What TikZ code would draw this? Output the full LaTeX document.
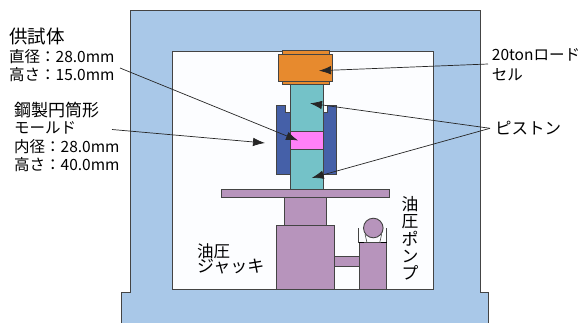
\documentclass[tikz,border=0pt]{standalone}
\usetikzlibrary{arrows.meta}
\usepackage{fontspec}
\setmainfont{Noto Sans CJK JP}
\usepackage{xcolor}
\definecolor{frame}{HTML}{A9C8E8}
\definecolor{room}{HTML}{FCFDFF}
\definecolor{edge}{HTML}{444444}
\definecolor{cell}{HTML}{E78A2E}
\definecolor{piston}{HTML}{74C2C8}
\definecolor{mould}{HTML}{4560A8}
\definecolor{sample}{HTML}{FF80F8}
\definecolor{jack}{HTML}{B794BC}

\begin{document}
\begin{tikzpicture}[x=1pt,y=-1pt,
		part/.style={draw=edge, line width=0.9pt, line join=miter},
		lead/.style={draw=black!85, line width=0.7pt, -{Latex[length=12pt,width=8.5pt]}},
		word/.style={inner sep=0pt, anchor=west, align=left, font=\fontsize{15.5}{18}\selectfont},
		bigword/.style={word, font=\fontsize{17}{18}\selectfont}]
		\useasboundingbox (0,0) rectangle (588,322);
		% frame and opening
		\draw [part, fill=frame] (121,323) -- (121,292.5) -- (130,292.5) -- (130,10) -- (480,10) -- (480,292.5) -- (488.5,292.5) -- (488.5,323);
		\draw [part, fill=room] (172,51) rectangle (433.5,289.5);
		%
		% load cell
		\begin{scope}
			\draw [part, fill=cell] (282.3,50.7) rectangle (329.5,54);
			\draw [part, fill=cell] (282.3,81.5) rectangle (329.5,84);
			\draw [part, fill=cell] (278.5,54) rectangle (332.5,81.5);
		\end{scope}
		%
		% mould halves, pistons, specimen
		\begin{scope}
			\draw [part, fill=mould] (290,174) -- (276.7,174) -- (276.7,105) -- (285,105) -- (285,112.7) -- (290,112.7) -- cycle;
			\draw [part, fill=mould] (323,174) -- (336,174) -- (336,105) -- (327.5,105) -- (327.5,112.7) -- (323,112.7) -- cycle;
			\draw [part, fill=piston] (290,84) rectangle (323,131);
			\draw [part, fill=piston] (290,149) rectangle (323,189.3);
			\draw [part, fill=sample] (290,131) rectangle (323,149);
		\end{scope}
		%
		% table, jack and pump
		\begin{scope}
			\draw [part, fill=jack] (221,189.3) rectangle (389.3,197.3);
			\draw [part, fill=jack] (284,197.3) rectangle (326,225.3);
			\draw [part, fill=jack] (276,225.3) rectangle (334.5,289.5);
			\draw [part, fill=jack] (334.5,256.7) rectangle (359,266);
			\draw [part, fill=jack] (359,242.7) rectangle (386.7,289.5);
			\draw [part, fill=jack] (373.3,228) circle (9.8);
			\draw [edge, line width=0.6pt] (358.5,228) -- (358.5,242.7) (386.7,228) -- (386.7,242.7);
			\draw [edge, line width=0.6pt] (365,234) -- (367,242.7) (381.7,234) -- (379.7,242.7);
			\draw [black, line width=1.4pt] (358.5,242.7) -- (364,242.7) (381,242.7) -- (386.7,242.7);
		\end{scope}
		%
		% labels
		\node [bigword, font=\fontsize{18.5}{19}\selectfont] (specimenTitle) at (9,36.5) {供試体};
		\node [word, anchor=north west] (specimenText) at (9,49.5) {直径：28.0mm\\高さ：15.0mm};
		\node [bigword] (mouldTitle) at (14,110) {鋼製円筒形};
		\node [word, anchor=north west] (mouldText) at (14,121) {モールド\\[1pt]内径：28.0mm\\[0.5pt]高さ：40.0mm};
		\node [word] (cellText) at (491.7,55) {20tonロード};
		\node [word] (cellTextB) at (491.7,75) {セル};
		\node [bigword, font=\fontsize{16.5}{18}\selectfont] (pistonText) at (495,128) {ピストン};
		\node [bigword, font=\fontsize{16.5}{18}\selectfont] (jackText) at (197,251) {油圧};
		\node [bigword] (jackTextB) at (197,267) {ジャッキ};
		\node [inner sep=0pt, align=center, anchor=north, font=\fontsize{16.8}{17.2}\selectfont] (pumpText) at (410,196.5) {油\\圧\\ポ\\ン\\プ};
		%
		% leaders
		\coordinate (specimenStart) at (120,68);
		\coordinate (specimenTip) at (298,140.5);
		\coordinate (mouldStart) at (112,129.5);
		\coordinate (mouldTip) at (265,143);
		\coordinate (cellStart) at (488,64);
		\coordinate (cellTip) at (319,70.7);
		\coordinate (pistonStart) at (490,128.3);
		\coordinate (pistonTipA) at (310,103.3);
		\coordinate (pistonTipB) at (311.7,178);
		\draw [lead] (specimenStart) -- (specimenTip);
		\draw [lead] (mouldStart) -- (mouldTip);
		\draw [lead] (cellStart) -- (cellTip);
		\draw [lead] (pistonStart) -- (pistonTipA);
		\draw [lead] (pistonStart) -- (pistonTipB);
	\end{tikzpicture}
\end{document}
